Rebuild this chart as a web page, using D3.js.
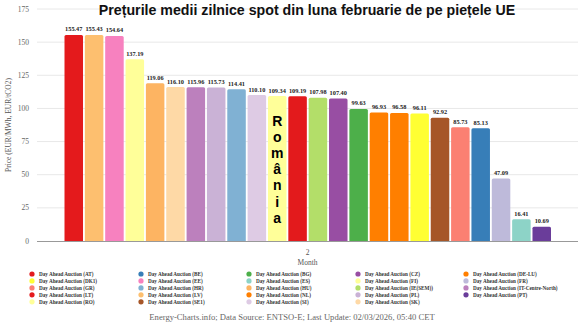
<!DOCTYPE html>
<html><head><meta charset="utf-8">
<script src="https://cdn.jsdelivr.net/npm/d3@7"></script>
<style>body{margin:0;background:#fff}svg{display:block}</style>
</head><body>
<svg id="c" width="585" height="329"></svg>
<script>
// Bars (sorted by price)
const barCodes = ["LT","LV","EE","FI","HU","SK","IT-Centre-North","PL","HR","SI","RO","AT","IE(SEM)","CZ","BG","DE-LU","NL","DK1","SE1","GR","BE","FR","ES","PT"];
const barValues = [155.47,155.43,154.64,137.19,119.06,116.10,115.96,115.73,114.41,110.10,109.34,109.19,107.98,107.40,99.63,96.93,96.58,96.11,92.92,85.73,85.13,47.09,16.41,10.69];
// Legend (alphabetical, 5 columns)
const legendCodes = ["AT","BE","BG","CZ","DE-LU","DK1","EE","ES","FI","FR","GR","HR","HU","IE(SEM)","IT-Centre-North","LT","LV","NL","PL","PT","RO","SE1","SI","SK"];
const colorCodes = ["AT","BE","BG","CZ","DE-LU","DK1","EE","ES","FI","FR","GR","HR","HU","IE(SEM)","IT-Centre-North","LT","LV","NL","PL","PT","RO","SE1","SI","SK"];
const colorValues = ["#e31a1c","#377eb8","#4daf4a","#984ea3","#ff7f00","#ffff33","#f781bf","#8dd3c7","#ffff99","#bebada","#fb8072","#80b1d3","#fdb462","#b3de69","#bc80bd","#e41a1c","#fdbf6f","#ff7f00","#cab2d6","#6a3d9a","#ffff99","#a65628","#decbe4","#fed9a6"];
const yTicks = [0,25,50,75,100,125,150,175];
const monthCats = ["2"];
const title = "Prețurile medii zilnice spot din luna februarie de pe piețele UE";
const highlightCode = "RO";
const highlightText = "România";

const svg = d3.select("#c");
const color = d3.scaleOrdinal().domain(colorCodes).range(colorValues);

const y = d3.scaleLinear().domain([0,175]).range([241,9]);
const xOuter = d3.scaleBand().domain(monthCats).range([37,578]);
const xo = xOuter("2"), bw = xOuter.bandwidth();
const x = d3.scaleBand().domain(barCodes).range([xo+27.5, xo+bw-27]).paddingInner(0.09);

// grid
svg.append("g").selectAll("line").data(yTicks.filter(t=>t>0)).join("line")
  .attr("x1",37).attr("x2",578).attr("y1",d=>y(d)).attr("y2",d=>y(d))
  .attr("stroke","#e8e8e8").attr("stroke-width",1);
svg.append("line").attr("x1",37).attr("x2",578).attr("y1",y(0)+0.5).attr("y2",y(0)+0.5)
  .attr("stroke","#999").attr("stroke-width",1);

// y tick labels
svg.append("g").selectAll("text").data(yTicks).join("text")
  .attr("x",29).attr("y",d=>y(d)+2.5).attr("text-anchor","end")
  .attr("font-family","Liberation Serif, serif").attr("font-size",7.5).attr("fill","#666")
  .text(d=>d);

// y title
svg.append("text").attr("transform","translate(11,125) rotate(-90)").attr("text-anchor","middle")
  .attr("font-family","Liberation Serif, serif").attr("font-size",7.5).attr("fill","#555")
  .text("Price (EUR/MWh, EUR/tCO2)");

// bars
const data = barCodes.map((c,i)=>({code:c,value:barValues[i]}));
svg.append("g").selectAll("path").data(data).join("path")
  .attr("fill",d=>color(d.code))
  .attr("d",d=>{
    const x0=x(d.code), w=x.bandwidth(), t=y(d.value), b=y(0), r=1.5;
    return `M${x0},${b}V${t+r}Q${x0},${t} ${x0+r},${t}H${x0+w-r}Q${x0+w},${t} ${x0+w},${t+r}V${b}Z`;
  });

// value labels
svg.append("g").selectAll("text").data(data).join("text")
  .attr("x",d=>x(d.code)+x.bandwidth()/2).attr("y",d=>y(d.value)-3.5)
  .attr("text-anchor","middle").attr("font-family","Liberation Serif, serif")
  .attr("font-weight","bold").attr("font-size",6.3).attr("fill","#222")
  .text(d=>d.value.toFixed(2));

// highlight vertical text
const hx = x(highlightCode)+x.bandwidth()/2;
svg.append("g").selectAll("text").data(highlightText.split("")).join("text")
  .attr("x",hx).attr("y",(d,i)=>126+i*16.1).attr("text-anchor","middle")
  .attr("font-family","Liberation Sans, Arial, sans-serif").attr("font-weight","bold")
  .attr("font-size",14).attr("fill","#000").text(d=>d);

// x axis labels
svg.append("text").attr("x",xo+bw/2).attr("y",255).attr("text-anchor","middle")
  .attr("font-family","Liberation Serif, serif").attr("font-size",7.5).attr("fill","#555").text("2");
svg.append("text").attr("x",xo+bw/2).attr("y",265).attr("text-anchor","middle")
  .attr("font-family","Liberation Serif, serif").attr("font-size",7.5).attr("fill","#555").text("Month");

// title
svg.append("text").attr("x",307).attr("y",15).attr("text-anchor","middle")
  .attr("font-family","Liberation Sans, Arial, sans-serif").attr("font-weight","bold")
  .attr("font-size",14.2).attr("fill","#111").text(title);

// legend
const colX = [32,141,249,358,466];
const lg = svg.append("g").selectAll("g").data(legendCodes).join("g")
  .attr("transform",(d,i)=>`translate(${colX[i%5]},${274+Math.floor(i/5)*6.95})`);
lg.append("circle").attr("r",2.6).attr("fill",d=>color(d));
lg.append("text").attr("x",7).attr("y",1.8).attr("font-family","Liberation Serif, serif")
  .attr("font-weight","bold").attr("font-size",5.2).attr("fill","#333")
  .text(d=>`Day Ahead Auction (${d})`);

// footer
svg.append("text").attr("x",292).attr("y",320).attr("text-anchor","middle")
  .attr("font-family","Liberation Serif, serif").attr("font-size",8.6).attr("fill","#666")
  .text("Energy-Charts.info; Data Source: ENTSO-E; Last Update: 02/03/2026, 05:40 CET");
</script>
</body></html>
